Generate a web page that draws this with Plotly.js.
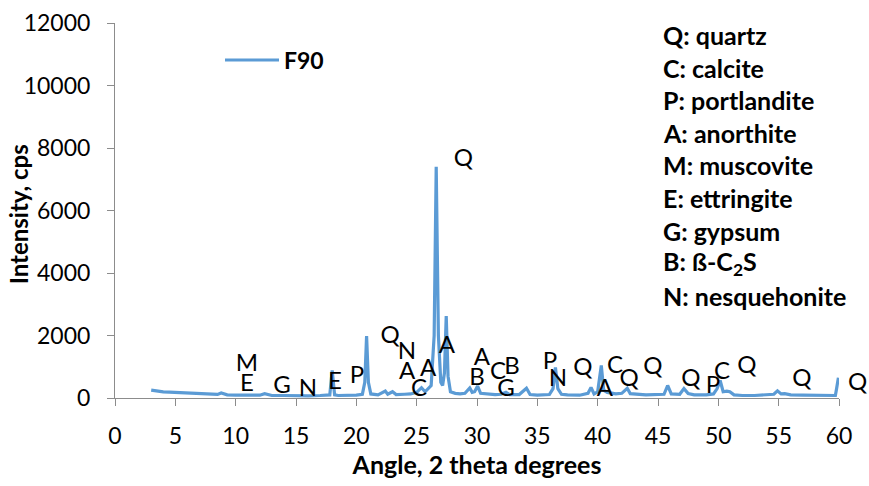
<!DOCTYPE html>
<html>
<head>
<meta charset="utf-8">
<script src="https://cdn.plot.ly/plotly-3.0.1.min.js"></script>
<style>
html,body{margin:0;padding:0;background:#fff;}
#chart{width:869px;height:486px;}
</style>
</head>
<body>
<div id="chart"></div>
<script>
// XRD pattern of sample F90 (angle in degrees 2-theta, intensity in cps)
const seriesName = 'F90';
const angle = [
  3.0, 3.5, 4.0, 4.5, 5.0, 5.5, 6.0, 6.5, 7.0, 7.5, 8.0, 8.5, 8.8, 9.0, 9.3, 10.0, 11.0, 12.0, 12.4, 13.0,
  14.0, 15.0, 16.0, 17.0, 17.8, 18.0, 18.2, 18.5, 19.0, 20.0, 20.5, 20.7, 20.85, 21.0, 21.2, 21.8, 22.4, 22.6, 23.0, 23.3,
  24.0, 24.5, 25.0, 25.4, 25.7, 26.2, 26.45, 26.62, 26.8, 27.0, 27.15, 27.3, 27.45, 27.6, 27.8, 28.2, 28.6, 29.0, 29.4, 29.6,
  29.8, 30.05, 30.3, 31.0, 31.5, 32.0, 32.4, 32.7, 33.5, 34.1, 34.4, 35.0, 36.0, 36.3, 36.5, 36.7, 37.0, 37.5, 38.0, 38.5,
  39.2, 39.45, 39.7, 40.0, 40.3, 40.5, 40.8, 41.5, 42.0, 42.45, 42.7, 43.5, 44.0, 45.5, 45.8, 46.1, 46.8, 47.15, 47.5, 48.0,
  48.5, 49.0, 49.6, 49.9, 50.15, 50.4, 50.7, 50.95, 51.3, 52.0, 53.0, 54.0, 54.6, 54.9, 55.2, 55.5, 56.0, 57.0, 58.0, 59.0,
  59.7, 59.8, 59.95
];
const intensity = [
  250, 215, 195, 185, 175, 165, 155, 145, 130, 120, 110, 115, 160, 140, 100, 90, 85, 90, 140, 80,
  80, 70, 70, 80, 100, 880, 100, 80, 80, 90, 120, 500, 1980, 500, 130, 100, 220, 120, 200, 110,
  120, 130, 180, 330, 200, 400, 2000, 7400, 2000, 500, 400, 800, 2620, 700, 200, 150, 130, 150, 320, 180,
  200, 380, 150, 120, 110, 120, 180, 110, 110, 310, 110, 90, 110, 300, 980, 300, 120, 100, 100, 90,
  150, 340, 130, 200, 1040, 250, 180, 130, 150, 310, 140, 100, 100, 120, 400, 130, 120, 300, 140, 100,
  90, 100, 130, 300, 560, 200, 220, 200, 100, 80, 80, 90, 120, 230, 130, 140, 100, 90, 80, 80,
  80, 300, 650
];

// Phase letters marking the peaks (angle, intensity where the letter sits)
const peakLetters = ['M','E','G','N','E','P','Q','N','A','C','A','A','Q','B','A','C','B','G','P','N','Q','A','C','Q','Q','Q','P','C','Q','Q','Q'];
const peakLetterAngle = [10.94,10.94,13.84,15.99,18.23,20.05,22.79,24.2,24.2,25.19,25.94,27.51,28.87,30.0,30.41,31.74,32.9,32.4,36.05,36.71,38.78,40.6,41.44,42.6,44.58,47.73,49.56,50.3,52.37,56.93,61.57];
const peakLetterIntensity = [1055,416,352,256,480,672,1950,1440,800,256,895,1630,7610,608,1247,800,960,256,1119,576,927,256,991,576,959,576,352,800,991,576,576];

// Key of phases
const phaseKey = ['Q: quartz','C: calcite','P: portlandite','A: anorthite','M: muscovite','E: ettringite','G: gypsum','B: ß-C<sub>2</sub>S','N: nesquehonite'];

const xTicks = [0,5,10,15,20,25,30,35,40,45,50,55,60];
const yTicks = [0,2000,4000,6000,8000,10000,12000];
const xRange = [0, 60];
const yRange = [0, 12000];

const FONT = 'Lato, Carlito, Calibri, "DejaVu Sans", sans-serif';
const BLUE = '#5B9BD5';
const AXC = '#8C8C8C';
const LETTER_FONT = {family: FONT, size: 24, color: '#000'};

// letters inside the angle range go in a text trace; letters beyond it as annotations
const inX = [], inY = [], inT = [];
const annotations = [];
peakLetters.forEach(function(t, i){
  const a = peakLetterAngle[i];
  if (a >= xRange[0] && a <= xRange[1]) {
    inX.push(a); inY.push(peakLetterIntensity[i]); inT.push(t);
  } else {
    annotations.push({xref: 'paper', yref: 'y', x: (a - xRange[0]) / (xRange[1] - xRange[0]),
      y: peakLetterIntensity[i], xanchor: 'center', yanchor: 'middle', text: t, showarrow: false, font: LETTER_FONT});
  }
});

const traces = [
  {
    x: angle, y: intensity, type: 'scatter', mode: 'lines', name: seriesName,
    line: {color: BLUE, width: 3.2}, showlegend: false, hoverinfo: 'x+y'
  },
  {
    x: inX, y: inY, type: 'scatter', mode: 'text',
    text: inT, textposition: 'middle center', cliponaxis: false,
    textfont: LETTER_FONT, showlegend: false, hoverinfo: 'skip'
  }
];

// legend label
annotations.push({xref: 'paper', yref: 'paper', x: (282-115)/724, y: (398-60)/375, xanchor: 'left', yanchor: 'middle',
  text: '<b>' + seriesName + '</b>', showarrow: false, font: {family: FONT, size: 23, color: '#000'}});
// y-axis title
annotations.push({xref: 'paper', yref: 'paper', x: (18-115)/724, y: 0.49, xanchor: 'center', yanchor: 'middle',
  textangle: -90, text: '<b>Intensity, cps</b>', showarrow: false, font: {family: FONT, size: 24, color: '#000'}});
// phase key
phaseKey.forEach(function(t, i){
  annotations.push({xref: 'paper', yref: 'paper', x: (661-115)/724, y: (398-(35 + i*32.6))/375,
    xanchor: 'left', yanchor: 'middle', text: '<b>' + t + '</b>', showarrow: false,
    font: {family: FONT, size: 25, color: '#000'}});
});

const layout = {
  width: 869, height: 486,
  margin: {l: 115, r: 30, t: 23, b: 88, pad: 0},
  paper_bgcolor: '#fff', plot_bgcolor: '#fff',
  font: {family: FONT, size: 22, color: '#000'},
  showlegend: false,
  xaxis: {
    range: xRange, tickvals: xTicks, ticktext: xTicks.map(String),
    showgrid: false, zeroline: false, showline: true, linecolor: AXC, linewidth: 1,
    ticks: 'outside', ticklen: 7, tickcolor: AXC, tickwidth: 1, ticklabelstandoff: 10,
    tickfont: {family: FONT, size: 23, color: '#000'},
    title: {text: '<b>Angle, 2 theta degrees</b>', font: {family: FONT, size: 25, color: '#000'}, standoff: 6},
    automargin: false, fixedrange: true
  },
  yaxis: {
    range: yRange, tickvals: yTicks, ticktext: yTicks.map(String),
    showgrid: false, zeroline: false, showline: true, linecolor: AXC, linewidth: 1,
    ticks: 'outside', ticklen: 7, tickcolor: AXC, tickwidth: 1, ticklabelstandoff: 12,
    tickfont: {family: FONT, size: 23, color: '#000'},
    automargin: false, fixedrange: true
  },
  shapes: [
    {type: 'line', xref: 'paper', yref: 'paper', x0: (225-115)/724, x1: (279-115)/724,
     y0: (398-60)/375, y1: (398-60)/375, line: {color: BLUE, width: 3.2}}
  ],
  annotations: annotations
};

Plotly.newPlot('chart', traces, layout, {displayModeBar: false, staticPlot: true});
</script>
</body>
</html>
